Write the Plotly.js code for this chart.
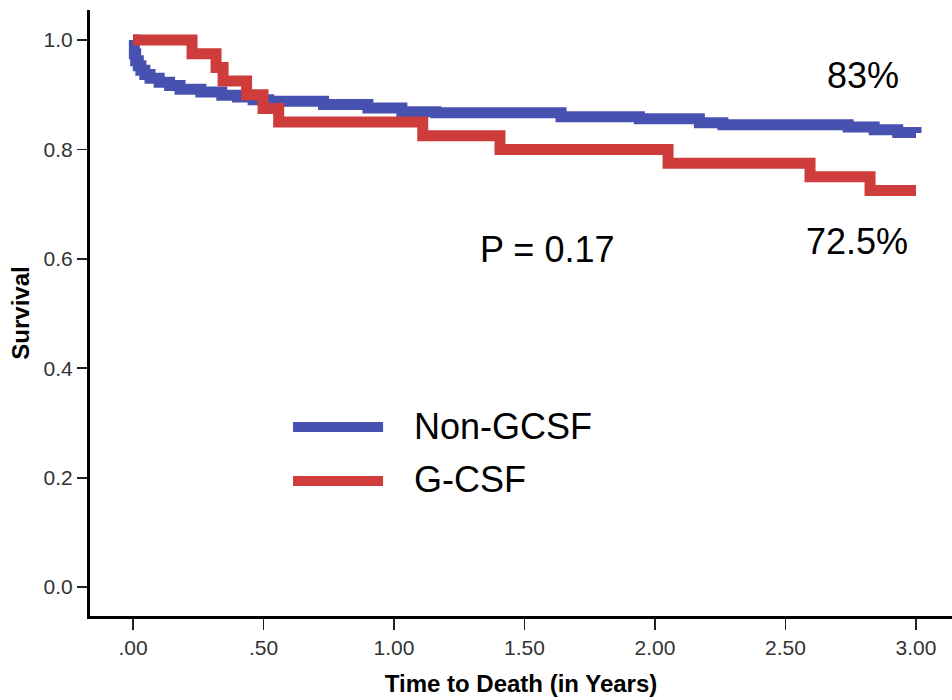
<!DOCTYPE html>
<html>
<head>
<meta charset="utf-8">
<script src="https://cdn.plot.ly/plotly-3.0.1.min.js"></script>
<style>html,body{margin:0;padding:0;background:#fff;}#chart{width:952px;height:700px;}</style>
</head>
<body>
<div id="chart"></div>
<script>
// Kaplan-Meier survival, Non-GCSF
const nonGcsfTime = [0, 0.005, 0.01, 0.02, 0.03, 0.045, 0.065, 0.10, 0.14, 0.18, 0.26, 0.34, 0.40, 0.46, 0.52, 0.73, 0.90, 1.03, 1.16, 1.64, 1.94, 2.17, 2.26, 2.74, 2.84, 2.93, 3.0];
const nonGcsfSurv = [1.0, 0.975, 0.962, 0.953, 0.945, 0.937, 0.930, 0.923, 0.917, 0.910, 0.905, 0.899, 0.896, 0.891, 0.888, 0.882, 0.876, 0.869, 0.867, 0.860, 0.856, 0.849, 0.845, 0.841, 0.836, 0.831, 0.830];
// Kaplan-Meier survival, G-CSF
const gcsfTime = [0, 0.226, 0.318, 0.345, 0.435, 0.498, 0.558, 1.11, 1.406, 2.05, 2.594, 2.824, 3.0];
const gcsfSurv = [1.0, 0.975, 0.95, 0.925, 0.90, 0.875, 0.85, 0.825, 0.80, 0.775, 0.75, 0.725, 0.725];

const xTickVals = [0, 0.5, 1.0, 1.5, 2.0, 2.5, 3.0];
const xTickText = ['.00', '.50', '1.00', '1.50', '2.00', '2.50', '3.00'];
const yTickVals = [0, 0.2, 0.4, 0.6, 0.8, 1.0];
const yTickText = ['0.0', '0.2', '0.4', '0.6', '0.8', '1.0'];

const seriesNames = ['Non-GCSF', 'G-CSF'];
const seriesColors = ['#4751B0', '#CE3C3C'];
const annoTexts = ['83%', 'P = 0.17', '72.5%'];

const FONT = 'Arial, "Liberation Sans", Helvetica, sans-serif';

const traces = [
  {x: nonGcsfTime, y: nonGcsfSurv, name: seriesNames[0], mode: 'lines',
   line: {shape: 'hv', color: seriesColors[0], width: 11}, showlegend: false, hoverinfo: 'skip'},
  {x: gcsfTime, y: gcsfSurv, name: seriesNames[1], mode: 'lines',
   line: {shape: 'hv', color: seriesColors[1], width: 11}, showlegend: false, hoverinfo: 'skip'}
];

const layout = {
  width: 952, height: 700,
  margin: {l: 90, r: 0, t: 10, b: 84, pad: 0},
  paper_bgcolor: '#fff', plot_bgcolor: '#fff',
  font: {family: FONT, color: '#000'},
  xaxis: {
    range: [-0.165, 3.138], showgrid: false, zeroline: false,
    showline: true, linecolor: '#000', linewidth: 3,
    ticks: 'outside', ticklen: 11, tickwidth: 1.8, tickcolor: '#222',
    tickvals: xTickVals, ticktext: xTickText,
    tickfont: {family: FONT, size: 21, color: '#333'},
    title: {text: '<b>Time to Death (in Years)</b>', font: {family: FONT, size: 24, color: '#000'}, standoff: 17}
  },
  yaxis: {
    range: [-0.053, 1.055], showgrid: false, zeroline: false,
    showline: true, linecolor: '#000', linewidth: 3,
    ticks: 'outside', ticklen: 10, tickwidth: 1.8, tickcolor: '#222',
    tickvals: yTickVals, ticktext: yTickText,
    tickfont: {family: FONT, size: 21, color: '#333'},
    title: {text: '<b>Survival</b>', font: {family: FONT, size: 24, color: '#000'}, standoff: 8}
  },
  shapes: [
    {type: 'line', xref: 'x', yref: 'y', x0: 0.613, x1: 0.958, y0: 0.2925, y1: 0.2925,
     line: {color: seriesColors[0], width: 10}},
    {type: 'line', xref: 'x', yref: 'y', x0: 0.613, x1: 0.958, y0: 0.194, y1: 0.194,
     line: {color: seriesColors[1], width: 10}}
  ],
  annotations: [
    {x: 2.797, y: 0.936, xref: 'x', yref: 'y', text: annoTexts[0], showarrow: false,
     font: {family: FONT, size: 36, color: '#000'}},
    {x: 1.586, y: 0.618, xref: 'x', yref: 'y', text: annoTexts[1], showarrow: false,
     font: {family: FONT, size: 36, color: '#000'}},
    {x: 2.774, y: 0.631, xref: 'x', yref: 'y', text: annoTexts[2], showarrow: false,
     font: {family: FONT, size: 36, color: '#000'}},
    {x: 1.069, y: 0.294, xref: 'x', yref: 'y', xanchor: 'left', text: seriesNames[0], showarrow: false,
     font: {family: FONT, size: 36, color: '#000'}},
    {x: 1.069, y: 0.196, xref: 'x', yref: 'y', xanchor: 'left', text: seriesNames[1], showarrow: false,
     font: {family: FONT, size: 36, color: '#000'}}
  ]
};

Plotly.newPlot('chart', traces, layout, {displayModeBar: false, staticPlot: true});
</script>
</body>
</html>
